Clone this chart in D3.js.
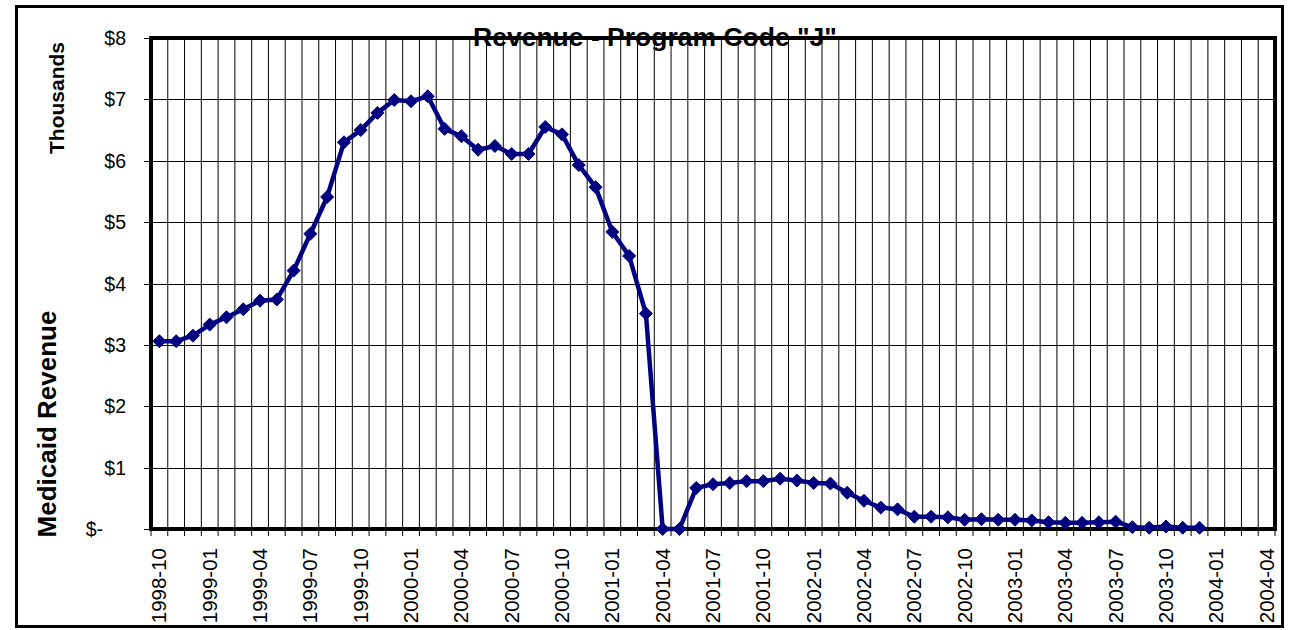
<!DOCTYPE html>
<html>
<head>
<meta charset="utf-8">
<script src="https://cdn.jsdelivr.net/npm/d3@7"></script>
<style>
  body { margin: 0; background: #fff; }
  text { font-family: "Liberation Sans", Arial, sans-serif; }
</style>
</head>
<body>
<script>
// months on the category axis
var months = [
  "1998-10","1998-11","1998-12","1999-01","1999-02","1999-03","1999-04","1999-05","1999-06",
  "1999-07","1999-08","1999-09","1999-10","1999-11","1999-12","2000-01","2000-02","2000-03",
  "2000-04","2000-05","2000-06","2000-07","2000-08","2000-09","2000-10","2000-11","2000-12",
  "2001-01","2001-02","2001-03","2001-04","2001-05","2001-06","2001-07","2001-08","2001-09",
  "2001-10","2001-11","2001-12","2002-01","2002-02","2002-03","2002-04","2002-05","2002-06",
  "2002-07","2002-08","2002-09","2002-10","2002-11","2002-12","2003-01","2003-02","2003-03",
  "2003-04","2003-05","2003-06","2003-07","2003-08","2003-09","2003-10","2003-11","2003-12",
  "2004-01","2004-02","2004-03","2004-04"
];

// revenue in thousands of $, one per month from 1998-10 to 2003-12
var revenue = [
  3.06, 3.06, 3.15, 3.33, 3.45, 3.58, 3.72, 3.74, 4.21,
  4.81, 5.41, 6.30, 6.50, 6.78, 6.99, 6.97, 7.05, 6.52,
  6.40, 6.18, 6.24, 6.11, 6.11, 6.55, 6.43, 5.93, 5.57,
  4.84, 4.45, 3.51, 0.00, 0.00, 0.67, 0.73, 0.75, 0.78,
  0.78, 0.82, 0.79, 0.75, 0.74, 0.59, 0.46, 0.35, 0.32,
  0.20, 0.20, 0.19, 0.15, 0.16, 0.15, 0.15, 0.14, 0.11,
  0.10, 0.10, 0.11, 0.12, 0.03, 0.02, 0.04, 0.02, 0.02
];

var xTickLabels = [
  "1998-10","1999-01","1999-04","1999-07","1999-10","2000-01","2000-04","2000-07",
  "2000-10","2001-01","2001-04","2001-07","2001-10","2002-01","2002-04","2002-07",
  "2002-10","2003-01","2003-04","2003-07","2003-10","2004-01","2004-04"
];
var yTicks = [0, 1, 2, 3, 4, 5, 6, 7, 8];
var yTickLabels = ["$-", "$1", "$2", "$3", "$4", "$5", "$6", "$7", "$8"];

var W = 1290, H = 630;
var plotL = 151, plotR = 1275, plotT = 38, plotB = 529;

var svg = d3.select("body").append("svg")
  .attr("width", W)
  .attr("height", H);

// outer frame
svg.append("rect")
  .attr("x", 16.5).attr("y", 6.5)
  .attr("width", 1266).attr("height", 620)
  .attr("fill", "#fff")
  .attr("stroke", "#000")
  .attr("stroke-width", 3);

var x = d3.scaleBand().domain(months).range([plotL, plotR]).padding(0);
var y = d3.scaleLinear().domain([0, 8]).range([plotB, plotT]);

// grid: one vertical line per category boundary
var bounds = months.map(function (m) { return x(m); }).concat([plotR]);
svg.append("g").selectAll("line")
  .data(bounds)
  .join("line")
  .attr("x1", function (d) { return d; }).attr("x2", function (d) { return d; })
  .attr("y1", plotT).attr("y2", plotB)
  .attr("stroke", "#000").attr("stroke-width", 1);

svg.append("g").selectAll("line")
  .data(yTicks)
  .join("line")
  .attr("x1", plotL - 7).attr("x2", plotR)
  .attr("y1", function (d) { return Math.round(y(d)) + 0.5; })
  .attr("y2", function (d) { return Math.round(y(d)) + 0.5; })
  .attr("stroke", "#000").attr("stroke-width", 1);

// x tick marks below axis
svg.append("g").selectAll("line")
  .data(bounds)
  .join("line")
  .attr("x1", function (d) { return d; }).attr("x2", function (d) { return d; })
  .attr("y1", plotB).attr("y2", plotB + 7)
  .attr("stroke", "#000").attr("stroke-width", 1);

// title (sits under the top border, like the original)
svg.append("text")
  .attr("x", 655).attr("y", 46)
  .attr("text-anchor", "middle")
  .attr("font-size", 26.5)
  .attr("font-weight", "bold")
  .text('Revenue - Program Code "J"');

// plot border
svg.append("rect")
  .attr("x", plotL).attr("y", plotT)
  .attr("width", plotR - plotL).attr("height", plotB - plotT)
  .attr("fill", "none")
  .attr("stroke", "#000")
  .attr("stroke-width", 4);

// y labels
svg.append("g").selectAll("text")
  .data(yTicks)
  .join("text")
  .attr("x", function (d) { return d === 0 ? 103 : 126; })
  .attr("y", function (d) { return y(d) + 7; })
  .attr("text-anchor", "end")
  .attr("font-size", 19.5)
  .text(function (d, i) { return yTickLabels[i]; });

// x labels
svg.append("g").selectAll("text")
  .data(xTickLabels)
  .join("text")
  .attr("transform", function (d) {
    return "translate(" + (x(d) + x.bandwidth() / 2 + 7) + "," + 548 + ")rotate(-90)";
  })
  .attr("text-anchor", "end")
  .attr("font-size", 20.5)
  .text(function (d) { return d; });

// axis titles
svg.append("text")
  .attr("transform", "translate(64,98)rotate(-90)")
  .attr("text-anchor", "middle")
  .attr("font-size", 21)
  .attr("font-weight", "bold")
  .text("Thousands");

svg.append("text")
  .attr("transform", "translate(56,424)rotate(-90)")
  .attr("text-anchor", "middle")
  .attr("font-size", 26)
  .attr("font-weight", "bold")
  .text("Medicaid Revenue");

// series
var pts = revenue.map(function (v, i) { return [months[i], v]; });
var line = d3.line()
  .x(function (d) { return x(d[0]) + x.bandwidth() / 2; })
  .y(function (d) { return y(d[1]); });

svg.append("path")
  .datum(pts)
  .attr("d", line)
  .attr("fill", "none")
  .attr("stroke", "#000080")
  .attr("stroke-width", 4.5)
  .attr("stroke-linejoin", "round");

svg.append("g").selectAll("path")
  .data(pts)
  .join("path")
  .attr("transform", function (d) {
    return "translate(" + (x(d[0]) + x.bandwidth() / 2) + "," + y(d[1]) + ")";
  })
  .attr("d", "M0,-6.5L6.5,0L0,6.5L-6.5,0Z")
  .attr("fill", "#000080")
  .attr("stroke", "#000080")
  .attr("stroke-width", 1);
</script>
</body>
</html>
